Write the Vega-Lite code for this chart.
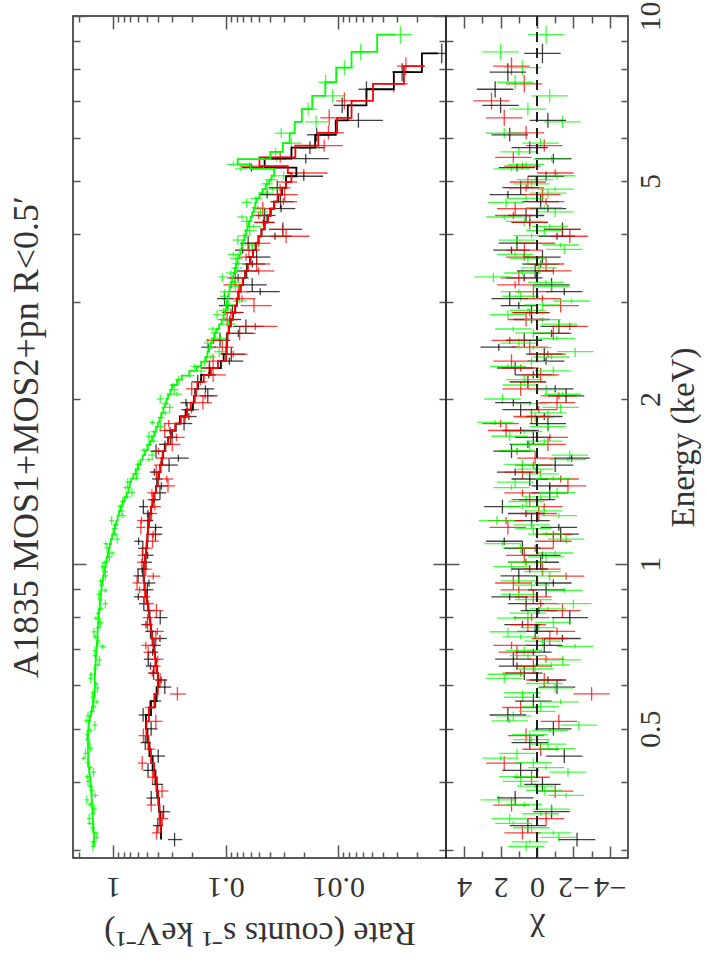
{
"$schema": "https://vega.github.io/schema/vega-lite/v6.json",
"background": "white",
"padding": {"left": 8, "top": 0, "right": 0, "bottom": 0},
"title": {"text": "A1835  MOS1+MOS2+pn  R<0.5′", "orient": "left", "anchor": "middle", "frame": "group", "offset": 26, "font": "Liberation Serif", "fontSize": 36, "fontWeight": "normal", "color": "#333"},
"datasets": {"spec": [
{"i":"m1","e":0.314,"a":0.305,"b":0.323,"m":0.375,"r":0.284,"l":0.243,"h":0.325,"c":-2.2},
{"i":"m1","e":0.333,"a":0.323,"b":0.343,"m":0.38,"r":0.40,"l":0.358,"h":0.442,"c":0.5},
{"i":"m1","e":0.353,"a":0.343,"b":0.363,"m":0.39,"r":0.356,"l":0.313,"h":0.399,"c":-0.8},
{"i":"m1","e":0.374,"a":0.363,"b":0.385,"m":0.405,"r":0.458,"l":0.413,"h":0.503,"c":1.2},
{"i":"m1","e":0.396,"a":0.385,"b":0.408,"m":0.42,"r":0.406,"l":0.360,"h":0.452,"c":-0.3},
{"i":"m1","e":0.420,"a":0.408,"b":0.433,"m":0.445,"r":0.489,"l":0.440,"h":0.538,"c":0.9},
{"i":"m1","e":0.446,"a":0.433,"b":0.459,"m":0.475,"r":0.397,"l":0.345,"h":0.449,"c":-1.5},
{"i":"m1","e":0.472,"a":0.459,"b":0.486,"m":0.495,"r":0.517,"l":0.463,"h":0.571,"c":0.4},
{"i":"m1","e":0.500,"a":0.486,"b":0.515,"m":0.51,"r":0.459,"l":0.403,"h":0.515,"c":-0.9},
{"i":"m1","e":0.530,"a":0.515,"b":0.546,"m":0.46,"r":0.541,"l":0.490,"h":0.592,"c":1.6},
{"i":"m1","e":0.562,"a":0.546,"b":0.579,"m":0.41,"r":0.419,"l":0.374,"h":0.464,"c":0.2},
{"i":"m1","e":0.596,"a":0.579,"b":0.614,"m":0.395,"r":0.347,"l":0.304,"h":0.390,"c":-1.1},
{"i":"m1","e":0.632,"a":0.614,"b":0.651,"m":0.405,"r":0.436,"l":0.391,"h":0.481,"c":0.7},
{"i":"m1","e":0.670,"a":0.651,"b":0.690,"m":0.425,"r":0.486,"l":0.439,"h":0.533,"c":1.3},
{"i":"m1","e":0.710,"a":0.690,"b":0.731,"m":0.445,"r":0.425,"l":0.376,"h":0.474,"c":-0.4},
{"i":"m1","e":0.753,"a":0.731,"b":0.775,"m":0.46,"r":0.465,"l":0.414,"h":0.516,"c":0.1},
{"i":"m1","e":0.798,"a":0.775,"b":0.822,"m":0.475,"r":0.381,"l":0.329,"h":0.433,"c":-1.8},
{"i":"m1","e":0.846,"a":0.822,"b":0.871,"m":0.50,"r":0.533,"l":0.478,"h":0.588,"c":0.6},
{"i":"m1","e":0.897,"a":0.871,"b":0.923,"m":0.525,"r":0.496,"l":0.438,"h":0.554,"c":-0.5},
{"i":"m1","e":0.951,"a":0.923,"b":0.979,"m":0.54,"r":0.599,"l":0.540,"h":0.658,"c":1.0},
{"i":"m1","e":1.007,"a":0.979,"b":1.037,"m":0.52,"r":0.509,"l":0.452,"h":0.566,"c":-0.2},
{"i":"m1","e":1.068,"a":1.037,"b":1.100,"m":0.50,"r":0.544,"l":0.489,"h":0.599,"c":0.8},
{"i":"m1","e":1.133,"a":1.100,"b":1.166,"m":0.49,"r":0.420,"l":0.366,"h":0.474,"c":-1.3},
{"i":"m1","e":1.200,"a":1.166,"b":1.236,"m":0.475,"r":0.491,"l":0.439,"h":0.543,"c":0.3},
{"i":"m1","e":1.272,"a":1.236,"b":1.310,"m":0.445,"r":0.538,"l":0.489,"h":0.587,"c":1.9},
{"i":"m1","e":1.348,"a":1.310,"b":1.388,"m":0.415,"r":0.383,"l":0.337,"h":0.429,"c":-0.7},
{"i":"m1","e":1.429,"a":1.388,"b":1.471,"m":0.39,"r":0.407,"l":0.364,"h":0.450,"c":0.4},
{"i":"m1","e":1.515,"a":1.471,"b":1.560,"m":0.37,"r":0.318,"l":0.266,"h":0.370,"c":-1.0},
{"i":"m1","e":1.606,"a":1.560,"b":1.653,"m":0.347,"r":0.415,"l":0.366,"h":0.464,"c":1.4},
{"i":"m1","e":1.702,"a":1.653,"b":1.752,"m":0.30,"r":0.308,"l":0.266,"h":0.350,"c":0.2},
{"i":"m1","e":1.804,"a":1.752,"b":1.858,"m":0.255,"r":0.234,"l":0.198,"h":0.270,"c":-0.6},
{"i":"m1","e":1.912,"a":1.858,"b":1.969,"m":0.195,"r":0.220,"l":0.193,"h":0.247,"c":0.9},
{"i":"m1","e":2.027,"a":1.969,"b":2.087,"m":0.186,"r":0.144,"l":0.118,"h":0.170,"c":-1.6},
{"i":"m1","e":2.149,"a":2.087,"b":2.213,"m":0.165,"r":0.177,"l":0.154,"h":0.200,"c":0.5},
{"i":"m1","e":2.278,"a":2.213,"b":2.345,"m":0.11,"r":0.139,"l":0.115,"h":0.163,"c":1.2},
{"i":"m1","e":2.414,"a":2.345,"b":2.486,"m":0.098,"r":0.089,"l":0.067,"h":0.111,"c":-0.4},
{"i":"m1","e":2.560,"a":2.486,"b":2.635,"m":0.097,"r":0.112,"l":0.091,"h":0.133,"c":0.7},
{"i":"m1","e":2.713,"a":2.635,"b":2.793,"m":0.090,"r":0.066,"l":0.046,"h":0.086,"c":-1.2},
{"i":"m1","e":2.876,"a":2.793,"b":2.961,"m":0.082,"r":0.087,"l":0.069,"h":0.105,"c":0.3},
{"i":"m1","e":3.049,"a":2.961,"b":3.139,"m":0.077,"r":0.102,"l":0.085,"h":0.119,"c":1.5},
{"i":"m1","e":3.231,"a":3.139,"b":3.327,"m":0.070,"r":0.058,"l":0.043,"h":0.073,"c":-0.8},
{"i":"m1","e":3.425,"a":3.327,"b":3.527,"m":0.064,"r":0.065,"l":0.051,"h":0.079,"c":0.1},
{"i":"m1","e":3.631,"a":3.527,"b":3.738,"m":0.057,"r":0.053,"l":0.040,"h":0.066,"c":-0.3},
{"i":"m1","e":3.849,"a":3.738,"b":3.963,"m":0.051,"r":0.063,"l":0.052,"h":0.074,"c":1.1},
{"i":"m1","e":4.080,"a":3.963,"b":4.200,"m":0.045,"r":0.031,"l":0.021,"h":0.041,"c":-1.4},
{"i":"m1","e":4.324,"a":4.200,"b":4.452,"m":0.040,"r":0.045,"l":0.036,"h":0.054,"c":0.6},
{"i":"m1","e":4.584,"a":4.452,"b":4.720,"m":0.034,"r":0.0325,"l":0.025,"h":0.040,"c":-0.2},
{"i":"m1","e":4.860,"a":4.720,"b":5.003,"m":0.029,"r":0.0347,"l":0.0283,"h":0.0411,"c":0.9},
{"i":"m1","e":5.10,"a":5.003,"b":5.20,"m":0.0235,"r":0.0202,"l":0.0136,"h":0.0268,"c":-0.5},
{"i":"m1","e":5.29,"a":5.20,"b":5.38,"m":0.045,"r":0.0589,"l":0.0463,"h":0.0715,"c":1.1},
{"i":"m1","e":5.49,"a":5.38,"b":5.60,"m":0.026,"r":0.0194,"l":0.0121,"h":0.0267,"c":-0.9},
{"i":"m1","e":5.75,"a":5.60,"b":5.90,"m":0.016,"r":0.0178,"l":0.0133,"h":0.0223,"c":0.4},
{"i":"m1","e":6.07,"a":5.90,"b":6.25,"m":0.0105,"r":0.0155,"l":0.0121,"h":0.0189,"c":1.5},
{"i":"m1","e":6.45,"a":6.25,"b":6.65,"m":0.0082,"r":0.0066,"l":0.0040,"h":0.0092,"c":-0.6},
{"i":"m1","e":6.87,"a":6.65,"b":7.10,"m":0.0056,"r":0.0092,"l":0.0074,"h":0.0110,"c":2.0},
{"i":"m1","e":7.35,"a":7.10,"b":7.60,"m":0.0032,"r":0.0056,"l":0.0046,"h":0.0066,"c":2.3},
{"i":"m1","e":7.90,"a":7.60,"b":8.20,"m":0.0018,"r":0.0027,"l":0.0021,"h":0.0033,"c":1.6},
{"i":"m1","e":8.55,"a":8.20,"b":8.90,"m":0.0013,"r":0.0012,"l":0.0008,"h":0.0016,"c":-0.3},
{"i":"m1","e":0.614,"a":0.605,"b":0.623,"m":0.40,"r":0.374,"l":0.330,"h":0.418,"c":-0.6},
{"i":"m1","e":0.651,"a":0.641,"b":0.661,"m":0.415,"r":0.465,"l":0.419,"h":0.511,"c":1.1},
{"i":"m1","e":0.690,"a":0.680,"b":0.700,"m":0.435,"r":0.445,"l":0.397,"h":0.493,"c":0.2},
{"i":"m1","e":0.731,"a":0.720,"b":0.742,"m":0.4525,"r":0.383,"l":0.333,"h":0.433,"c":-1.4},
{"i":"m1","e":0.775,"a":0.763,"b":0.787,"m":0.4675,"r":0.509,"l":0.458,"h":0.560,"c":0.8},
{"i":"m1","e":0.822,"a":0.810,"b":0.834,"m":0.4875,"r":0.482,"l":0.428,"h":0.536,"c":-0.1},
{"i":"m1","e":0.871,"a":0.858,"b":0.884,"m":0.5125,"r":0.597,"l":0.541,"h":0.653,"c":1.5},
{"i":"m1","e":0.923,"a":0.909,"b":0.937,"m":0.5325,"r":0.480,"l":0.421,"h":0.539,"c":-0.9},
{"i":"m1","e":0.979,"a":0.964,"b":0.994,"m":0.53,"r":0.553,"l":0.495,"h":0.611,"c":0.4},
{"i":"m1","e":1.037,"a":1.021,"b":1.053,"m":0.51,"r":0.493,"l":0.437,"h":0.549,"c":-0.3},
{"i":"m1","e":1.100,"a":1.083,"b":1.117,"m":0.495,"r":0.593,"l":0.538,"h":0.648,"c":1.8},
{"i":"m1","e":1.166,"a":1.149,"b":1.183,"m":0.4825,"r":0.419,"l":0.366,"h":0.472,"c":-1.2},
{"i":"m1","e":1.236,"a":1.217,"b":1.255,"m":0.46,"r":0.490,"l":0.439,"h":0.541,"c":0.6},
{"i":"m1","e":1.310,"a":1.290,"b":1.330,"m":0.43,"r":0.43,"l":0.383,"h":0.477,"c":0.0},
{"i":"m1","e":1.388,"a":1.367,"b":1.409,"m":0.4025,"r":0.372,"l":0.328,"h":0.416,"c":-0.7},
{"i":"m1","e":1.471,"a":1.449,"b":1.493,"m":0.38,"r":0.430,"l":0.388,"h":0.472,"c":1.2},
{"i":"m1","e":1.560,"a":1.537,"b":1.583,"m":0.3585,"r":0.263,"l":0.213,"h":0.313,"c":-1.9},
{"i":"m1","e":1.653,"a":1.628,"b":1.678,"m":0.3235,"r":0.346,"l":0.301,"h":0.391,"c":0.5},
{"i":"m1","e":1.752,"a":1.726,"b":1.778,"m":0.2775,"r":0.312,"l":0.273,"h":0.351,"c":0.9},
{"i":"m1","e":1.858,"a":1.830,"b":1.886,"m":0.225,"r":0.212,"l":0.181,"h":0.244,"c":-0.4},
{"i":"m1","e":1.969,"a":1.939,"b":1.999,"m":0.1905,"r":0.225,"l":0.198,"h":0.252,"c":1.3},
{"i":"m1","e":2.087,"a":2.056,"b":2.118,"m":0.1755,"r":0.151,"l":0.126,"h":0.176,"c":-1.0},
{"i":"m1","e":2.213,"a":2.180,"b":2.246,"m":0.1375,"r":0.141,"l":0.122,"h":0.160,"c":0.2},
{"i":"m1","e":2.345,"a":2.310,"b":2.380,"m":0.104,"r":0.0926,"l":0.0697,"h":0.1155,"c":-0.5},
{"i":"m1","e":2.486,"a":2.449,"b":2.523,"m":0.0975,"r":0.1425,"l":0.121,"h":0.164,"c":2.1},
{"i":"m1","e":2.635,"a":2.595,"b":2.675,"m":0.0935,"r":0.077,"l":0.0564,"h":0.0976,"c":-0.8},
{"i":"m1","e":2.793,"a":2.751,"b":2.835,"m":0.086,"r":0.0917,"l":0.0728,"h":0.1106,"c":0.3},
{"i":"m1","e":2.961,"a":2.917,"b":3.005,"m":0.0795,"r":0.097,"l":0.0795,"h":0.1145,"c":1.0},
{"i":"m1","e":3.139,"a":3.092,"b":3.186,"m":0.0735,"r":0.0492,"l":0.033,"h":0.0654,"c":-1.5},
{"i":"m1","e":3.327,"a":3.277,"b":3.377,"m":0.067,"r":0.0773,"l":0.0626,"h":0.092,"c":0.7},
{"i":"m1","e":3.527,"a":3.474,"b":3.580,"m":0.0605,"r":0.0578,"l":0.0445,"h":0.0711,"c":-0.2},
{"i":"m1","e":3.738,"a":3.682,"b":3.794,"m":0.054,"r":0.0706,"l":0.0587,"h":0.0825,"c":1.4},
{"i":"m1","e":3.963,"a":3.904,"b":4.022,"m":0.048,"r":0.0364,"l":0.0258,"h":0.047,"c":-1.1},
{"i":"m1","e":4.200,"a":4.137,"b":4.263,"m":0.0425,"r":0.0462,"l":0.0368,"h":0.0556,"c":0.4},
{"i":"m1","e":4.452,"a":4.385,"b":4.519,"m":0.037,"r":0.0321,"l":0.024,"h":0.0402,"c":-0.6},
{"i":"m1","e":4.720,"a":4.649,"b":4.791,"m":0.0315,"r":0.0426,"l":0.0357,"h":0.0495,"c":1.6},
{"i":"m2","e":0.323,"a":0.314,"b":0.333,"m":0.378,"r":0.411,"l":0.369,"h":0.453,"c":0.8},
{"i":"m2","e":0.343,"a":0.333,"b":0.353,"m":0.386,"r":0.365,"l":0.323,"h":0.407,"c":-0.5},
{"i":"m2","e":0.363,"a":0.353,"b":0.374,"m":0.397,"r":0.458,"l":0.414,"h":0.502,"c":1.4},
{"i":"m2","e":0.385,"a":0.374,"b":0.396,"m":0.412,"r":0.367,"l":0.322,"h":0.412,"c":-1.0},
{"i":"m2","e":0.408,"a":0.396,"b":0.420,"m":0.432,"r":0.446,"l":0.398,"h":0.494,"c":0.3},
{"i":"m2","e":0.433,"a":0.420,"b":0.446,"m":0.46,"r":0.551,"l":0.500,"h":0.602,"c":1.8},
{"i":"m2","e":0.459,"a":0.446,"b":0.472,"m":0.485,"r":0.474,"l":0.421,"h":0.527,"c":-0.2},
{"i":"m2","e":0.486,"a":0.472,"b":0.501,"m":0.505,"r":0.538,"l":0.482,"h":0.594,"c":0.6},
{"i":"m2","e":0.516,"a":0.501,"b":0.531,"m":0.48,"r":0.417,"l":0.364,"h":0.470,"c":-1.2},
{"i":"m2","e":0.547,"a":0.531,"b":0.563,"m":0.43,"r":0.473,"l":0.426,"h":0.520,"c":0.9},
{"i":"m2","e":0.579,"a":0.563,"b":0.596,"m":0.40,"r":0.268,"l":0.224,"h":0.312,"c":-3.0},
{"i":"m2","e":0.614,"a":0.596,"b":0.632,"m":0.40,"r":0.382,"l":0.338,"h":0.426,"c":-0.4},
{"i":"m2","e":0.651,"a":0.632,"b":0.670,"m":0.415,"r":0.424,"l":0.378,"h":0.470,"c":0.2},
{"i":"m2","e":0.690,"a":0.670,"b":0.710,"m":0.435,"r":0.488,"l":0.440,"h":0.536,"c":1.1},
{"i":"m2","e":0.731,"a":0.710,"b":0.753,"m":0.452,"r":0.417,"l":0.367,"h":0.467,"c":-0.7},
{"i":"m2","e":0.775,"a":0.753,"b":0.798,"m":0.468,"r":0.494,"l":0.443,"h":0.545,"c":0.5},
{"i":"m2","e":0.822,"a":0.798,"b":0.846,"m":0.487,"r":0.412,"l":0.358,"h":0.466,"c":-1.4},
{"i":"m2","e":0.871,"a":0.846,"b":0.897,"m":0.512,"r":0.523,"l":0.467,"h":0.579,"c":0.2},
{"i":"m2","e":0.923,"a":0.897,"b":0.950,"m":0.535,"r":0.612,"l":0.553,"h":0.671,"c":1.3},
{"i":"m2","e":0.978,"a":0.950,"b":1.007,"m":0.53,"r":0.513,"l":0.455,"h":0.571,"c":-0.3},
{"i":"m2","e":1.037,"a":1.007,"b":1.068,"m":0.51,"r":0.549,"l":0.493,"h":0.605,"c":0.7},
{"i":"m2","e":1.100,"a":1.068,"b":1.132,"m":0.495,"r":0.446,"l":0.392,"h":0.500,"c":-0.9},
{"i":"m2","e":1.166,"a":1.132,"b":1.200,"m":0.482,"r":0.567,"l":0.514,"h":0.620,"c":1.6},
{"i":"m2","e":1.236,"a":1.200,"b":1.272,"m":0.46,"r":0.455,"l":0.404,"h":0.506,"c":-0.1},
{"i":"m2","e":1.310,"a":1.272,"b":1.348,"m":0.43,"r":0.449,"l":0.402,"h":0.496,"c":0.4},
{"i":"m2","e":1.388,"a":1.348,"b":1.429,"m":0.40,"r":0.325,"l":0.281,"h":0.369,"c":-1.7},
{"i":"m2","e":1.471,"a":1.429,"b":1.515,"m":0.38,"r":0.413,"l":0.371,"h":0.455,"c":0.8},
{"i":"m2","e":1.560,"a":1.515,"b":1.606,"m":0.36,"r":0.365,"l":0.315,"h":0.415,"c":0.1},
{"i":"m2","e":1.653,"a":1.606,"b":1.702,"m":0.325,"r":0.298,"l":0.253,"h":0.343,"c":-0.6},
{"i":"m2","e":1.752,"a":1.702,"b":1.804,"m":0.28,"r":0.347,"l":0.308,"h":0.386,"c":1.7},
{"i":"m2","e":1.858,"a":1.804,"b":1.912,"m":0.22,"r":0.229,"l":0.198,"h":0.260,"c":0.3},
{"i":"m2","e":1.969,"a":1.912,"b":2.027,"m":0.188,"r":0.159,"l":0.133,"h":0.185,"c":-1.1},
{"i":"m2","e":2.087,"a":2.027,"b":2.149,"m":0.178,"r":0.200,"l":0.175,"h":0.225,"c":0.9},
{"i":"m2","e":2.213,"a":2.149,"b":2.278,"m":0.135,"r":0.129,"l":0.099,"h":0.159,"c":-0.2},
{"i":"m2","e":2.345,"a":2.278,"b":2.414,"m":0.099,"r":0.129,"l":0.107,"h":0.151,"c":1.4},
{"i":"m2","e":2.486,"a":2.414,"b":2.559,"m":0.098,"r":0.107,"l":0.085,"h":0.129,"c":0.4},
{"i":"m2","e":2.635,"a":2.559,"b":2.713,"m":0.094,"r":0.075,"l":0.054,"h":0.096,"c":-0.9},
{"i":"m2","e":2.793,"a":2.713,"b":2.876,"m":0.086,"r":0.097,"l":0.078,"h":0.116,"c":0.6},
{"i":"m2","e":2.961,"a":2.876,"b":3.048,"m":0.079,"r":0.056,"l":0.039,"h":0.073,"c":-1.3},
{"i":"m2","e":3.139,"a":3.048,"b":3.231,"m":0.074,"r":0.077,"l":0.061,"h":0.093,"c":0.2},
{"i":"m2","e":3.327,"a":3.231,"b":3.425,"m":0.067,"r":0.082,"l":0.067,"h":0.097,"c":1.0},
{"i":"m2","e":3.527,"a":3.425,"b":3.630,"m":0.060,"r":0.053,"l":0.040,"h":0.066,"c":-0.5},
{"i":"m2","e":3.738,"a":3.630,"b":3.848,"m":0.054,"r":0.062,"l":0.050,"h":0.074,"c":0.7},
{"i":"m2","e":3.963,"a":3.848,"b":4.079,"m":0.048,"r":0.029,"l":0.018,"h":0.040,"c":-1.8},
{"i":"m2","e":4.200,"a":4.079,"b":4.324,"m":0.042,"r":0.0457,"l":0.0365,"h":0.0549,"c":0.4},
{"i":"m2","e":4.452,"a":4.324,"b":4.583,"m":0.037,"r":0.0468,"l":0.0387,"h":0.0549,"c":1.2},
{"i":"m2","e":4.720,"a":4.583,"b":4.858,"m":0.032,"r":0.0299,"l":0.0229,"h":0.0369,"c":-0.3},
{"i":"m2","e":4.978,"a":4.858,"b":5.10,"m":0.026,"r":0.0289,"l":0.0232,"h":0.0346,"c":0.5},
{"i":"m2","e":5.17,"a":5.10,"b":5.25,"m":0.028,"r":0.0202,"l":0.0124,"h":0.0280,"c":-1.0},
{"i":"m2","e":5.32,"a":5.25,"b":5.40,"m":0.05,"r":0.0612,"l":0.0472,"h":0.0752,"c":0.8},
{"i":"m2","e":5.52,"a":5.40,"b":5.65,"m":0.024,"r":0.0327,"l":0.026,"h":0.0394,"c":1.3},
{"i":"m2","e":5.80,"a":5.65,"b":5.95,"m":0.015,"r":0.0133,"l":0.0091,"h":0.0175,"c":-0.4},
{"i":"m2","e":6.12,"a":5.95,"b":6.30,"m":0.0102,"r":0.0122,"l":0.0089,"h":0.0155,"c":0.6},
{"i":"m2","e":6.52,"a":6.30,"b":6.75,"m":0.0076,"r":0.0120,"l":0.0096,"h":0.0144,"c":1.8},
{"i":"m2","e":7.00,"a":6.75,"b":7.25,"m":0.0049,"r":0.0088,"l":0.0072,"h":0.0104,"c":2.5},
{"i":"m2","e":7.52,"a":7.25,"b":7.80,"m":0.0026,"r":0.0032,"l":0.0024,"h":0.0040,"c":0.7},
{"i":"m2","e":8.10,"a":7.80,"b":8.40,"m":0.0017,"r":0.0025,"l":0.0020,"h":0.0030,"c":1.4},
{"i":"m2","e":0.632,"a":0.623,"b":0.641,"m":0.4075,"r":0.448,"l":0.403,"h":0.493,"c":0.9},
{"i":"m2","e":0.670,"a":0.660,"b":0.680,"m":0.425,"r":0.402,"l":0.355,"h":0.449,"c":-0.5},
{"i":"m2","e":0.710,"a":0.699,"b":0.721,"m":0.4435,"r":0.512,"l":0.463,"h":0.561,"c":1.4},
{"i":"m2","e":0.753,"a":0.742,"b":0.764,"m":0.46,"r":0.404,"l":0.353,"h":0.455,"c":-1.1},
{"i":"m2","e":0.798,"a":0.786,"b":0.810,"m":0.4775,"r":0.493,"l":0.441,"h":0.546,"c":0.3},
{"i":"m2","e":0.846,"a":0.833,"b":0.859,"m":0.4995,"r":0.488,"l":0.433,"h":0.543,"c":-0.2},
{"i":"m2","e":0.897,"a":0.884,"b":0.910,"m":0.5235,"r":0.581,"l":0.523,"h":0.639,"c":1.0},
{"i":"m2","e":0.950,"a":0.936,"b":0.964,"m":0.5325,"r":0.439,"l":0.380,"h":0.498,"c":-1.6},
{"i":"m2","e":1.007,"a":0.992,"b":1.022,"m":0.52,"r":0.554,"l":0.497,"h":0.611,"c":0.6},
{"i":"m2","e":1.068,"a":1.052,"b":1.084,"m":0.5025,"r":0.508,"l":0.453,"h":0.563,"c":0.1},
{"i":"m2","e":1.132,"a":1.115,"b":1.149,"m":0.4885,"r":0.440,"l":0.386,"h":0.494,"c":-0.9},
{"i":"m2","e":1.200,"a":1.182,"b":1.218,"m":0.471,"r":0.559,"l":0.507,"h":0.611,"c":1.7},
{"i":"m2","e":1.272,"a":1.253,"b":1.291,"m":0.445,"r":0.425,"l":0.376,"h":0.474,"c":-0.4},
{"i":"m2","e":1.348,"a":1.328,"b":1.368,"m":0.415,"r":0.452,"l":0.406,"h":0.498,"c":0.8},
{"i":"m2","e":1.429,"a":1.408,"b":1.450,"m":0.39,"r":0.334,"l":0.291,"h":0.377,"c":-1.3},
{"i":"m2","e":1.515,"a":1.492,"b":1.538,"m":0.37,"r":0.380,"l":0.328,"h":0.432,"c":0.2},
{"i":"m2","e":1.606,"a":1.582,"b":1.630,"m":0.3425,"r":0.395,"l":0.347,"h":0.443,"c":1.1},
{"i":"m2","e":1.702,"a":1.676,"b":1.728,"m":0.3025,"r":0.273,"l":0.231,"h":0.315,"c":-0.7},
{"i":"m2","e":1.804,"a":1.777,"b":1.831,"m":0.25,"r":0.32,"l":0.285,"h":0.355,"c":2.0},
{"i":"m2","e":1.912,"a":1.883,"b":1.941,"m":0.204,"r":0.201,"l":0.172,"h":0.230,"c":-0.1},
{"i":"m2","e":2.027,"a":1.997,"b":2.057,"m":0.183,"r":0.152,"l":0.126,"h":0.178,"c":-1.2},
{"i":"m2","e":2.149,"a":2.117,"b":2.181,"m":0.1565,"r":0.1675,"l":0.1456,"h":0.1894,"c":0.5},
{"i":"m2","e":2.278,"a":2.244,"b":2.312,"m":0.117,"r":0.140,"l":0.114,"h":0.166,"c":0.9},
{"i":"m2","e":2.414,"a":2.378,"b":2.450,"m":0.0985,"r":0.0855,"l":0.0638,"h":0.1072,"c":-0.6},
{"i":"m2","e":2.559,"a":2.521,"b":2.597,"m":0.096,"r":0.1277,"l":0.1066,"h":0.1488,"c":1.5},
{"i":"m2","e":2.713,"a":2.672,"b":2.754,"m":0.090,"r":0.0544,"l":0.0346,"h":0.0742,"c":-1.8},
{"i":"m2","e":2.876,"a":2.833,"b":2.919,"m":0.0825,"r":0.0898,"l":0.0716,"h":0.108,"c":0.4},
{"i":"m2","e":3.048,"a":3.002,"b":3.094,"m":0.0765,"r":0.0715,"l":0.0547,"h":0.0883,"c":-0.3},
{"i":"m2","e":3.231,"a":3.183,"b":3.279,"m":0.0705,"r":0.0891,"l":0.0736,"h":0.1046,"c":1.2},
{"i":"m2","e":3.425,"a":3.374,"b":3.476,"m":0.0635,"r":0.0509,"l":0.0369,"h":0.0649,"c":-0.9},
{"i":"m2","e":3.630,"a":3.576,"b":3.684,"m":0.057,"r":0.0658,"l":0.0533,"h":0.0783,"c":0.7},
{"i":"m2","e":3.848,"a":3.790,"b":3.906,"m":0.051,"r":0.051,"l":0.0398,"h":0.0622,"c":0.0},
{"i":"m2","e":4.079,"a":4.018,"b":4.140,"m":0.045,"r":0.0311,"l":0.0212,"h":0.041,"c":-1.4},
{"i":"m2","e":4.324,"a":4.259,"b":4.389,"m":0.0395,"r":0.0508,"l":0.0421,"h":0.0595,"c":1.3},
{"i":"m2","e":4.583,"a":4.514,"b":4.652,"m":0.0345,"r":0.0307,"l":0.0231,"h":0.0383,"c":-0.5},
{"i":"m2","e":4.858,"a":4.785,"b":4.931,"m":0.029,"r":0.0328,"l":0.0264,"h":0.0392,"c":0.6},
{"i":"pn","e":0.305,"a":0.299,"b":0.311,"m":1.47,"r":1.51,"l":1.44,"h":1.58,"c":0.6},
{"i":"pn","e":0.317,"a":0.311,"b":0.323,"m":1.48,"r":1.39,"l":1.32,"h":1.46,"c":-1.2},
{"i":"pn","e":0.330,"a":0.323,"b":0.336,"m":1.50,"r":1.52,"l":1.45,"h":1.60,"c":0.3},
{"i":"pn","e":0.343,"a":0.336,"b":0.350,"m":1.52,"r":1.63,"l":1.55,"h":1.71,"c":1.5},
{"i":"pn","e":0.357,"a":0.350,"b":0.364,"m":1.53,"r":1.47,"l":1.39,"h":1.55,"c":-0.8},
{"i":"pn","e":0.371,"a":0.364,"b":0.378,"m":1.55,"r":1.71,"l":1.63,"h":1.79,"c":2.1},
{"i":"pn","e":0.386,"a":0.378,"b":0.393,"m":1.57,"r":1.54,"l":1.46,"h":1.62,"c":-0.4},
{"i":"pn","e":0.401,"a":0.393,"b":0.409,"m":1.60,"r":1.67,"l":1.59,"h":1.75,"c":0.9},
{"i":"pn","e":0.417,"a":0.409,"b":0.425,"m":1.63,"r":1.49,"l":1.41,"h":1.57,"c":-1.7},
{"i":"pn","e":0.434,"a":0.425,"b":0.442,"m":1.66,"r":1.68,"l":1.60,"h":1.76,"c":0.2},
{"i":"pn","e":0.451,"a":0.442,"b":0.460,"m":1.67,"r":1.76,"l":1.68,"h":1.84,"c":1.1},
{"i":"pn","e":0.469,"a":0.460,"b":0.478,"m":1.67,"r":1.62,"l":1.54,"h":1.70,"c":-0.6},
{"i":"pn","e":0.488,"a":0.478,"b":0.497,"m":1.67,"r":1.70,"l":1.62,"h":1.78,"c":0.4},
{"i":"pn","e":0.508,"a":0.497,"b":0.517,"m":1.64,"r":1.45,"l":1.37,"h":1.53,"c":-2.3},
{"i":"pn","e":0.528,"a":0.517,"b":0.538,"m":1.57,"r":1.67,"l":1.59,"h":1.75,"c":1.3},
{"i":"pn","e":0.549,"a":0.538,"b":0.560,"m":1.51,"r":1.49,"l":1.41,"h":1.57,"c":-0.2},
{"i":"pn","e":0.571,"a":0.560,"b":0.582,"m":1.46,"r":1.52,"l":1.45,"h":1.59,"c":0.8},
{"i":"pn","e":0.594,"a":0.582,"b":0.605,"m":1.45,"r":1.38,"l":1.31,"h":1.45,"c":-1.0},
{"i":"pn","e":0.618,"a":0.605,"b":0.629,"m":1.45,"r":1.58,"l":1.51,"h":1.65,"c":1.8},
{"i":"pn","e":0.643,"a":0.629,"b":0.654,"m":1.44,"r":1.45,"l":1.38,"h":1.52,"c":0.1},
{"i":"pn","e":0.668,"a":0.654,"b":0.680,"m":1.42,"r":1.32,"l":1.25,"h":1.39,"c":-1.4},
{"i":"pn","e":0.695,"a":0.680,"b":0.707,"m":1.40,"r":1.45,"l":1.38,"h":1.52,"c":0.7},
{"i":"pn","e":0.723,"a":0.707,"b":0.736,"m":1.38,"r":1.36,"l":1.29,"h":1.43,"c":-0.3},
{"i":"pn","e":0.752,"a":0.736,"b":0.765,"m":1.37,"r":1.48,"l":1.41,"h":1.55,"c":1.6},
{"i":"pn","e":0.782,"a":0.765,"b":0.796,"m":1.35,"r":1.29,"l":1.22,"h":1.36,"c":-0.9},
{"i":"pn","e":0.813,"a":0.796,"b":0.828,"m":1.33,"r":1.36,"l":1.29,"h":1.43,"c":0.5},
{"i":"pn","e":0.846,"a":0.828,"b":0.861,"m":1.30,"r":1.17,"l":1.11,"h":1.24,"c":-2.0},
{"i":"pn","e":0.880,"a":0.861,"b":0.895,"m":1.28,"r":1.34,"l":1.28,"h":1.40,"c":1.0},
{"i":"pn","e":0.915,"a":0.895,"b":0.931,"m":1.25,"r":1.27,"l":1.21,"h":1.33,"c":0.3},
{"i":"pn","e":0.951,"a":0.931,"b":0.968,"m":1.21,"r":1.17,"l":1.11,"h":1.23,"c":-0.7},
{"i":"pn","e":0.989,"a":0.968,"b":1.007,"m":1.16,"r":1.24,"l":1.18,"h":1.30,"c":1.4},
{"i":"pn","e":1.03,"a":1.007,"b":1.047,"m":1.11,"r":1.08,"l":1.01,"h":1.15,"c":-0.5},
{"i":"pn","e":1.07,"a":1.047,"b":1.089,"m":1.07,"r":1.13,"l":1.07,"h":1.19,"c":0.9},
{"i":"pn","e":1.11,"a":1.089,"b":1.133,"m":1.02,"r":0.92,"l":0.86,"h":0.98,"c":-1.6},
{"i":"pn","e":1.16,"a":1.133,"b":1.178,"m":0.96,"r":0.97,"l":0.91,"h":1.03,"c":0.2},
{"i":"pn","e":1.20,"a":1.178,"b":1.225,"m":0.91,"r":1.03,"l":0.98,"h":1.08,"c":2.2},
{"i":"pn","e":1.25,"a":1.225,"b":1.274,"m":0.86,"r":0.84,"l":0.79,"h":0.89,"c":-0.4},
{"i":"pn","e":1.30,"a":1.274,"b":1.325,"m":0.79,"r":0.82,"l":0.77,"h":0.87,"c":0.6},
{"i":"pn","e":1.35,"a":1.325,"b":1.378,"m":0.73,"r":0.68,"l":0.64,"h":0.72,"c":-1.1},
{"i":"pn","e":1.41,"a":1.378,"b":1.433,"m":0.69,"r":0.74,"l":0.70,"h":0.78,"c":1.2},
{"i":"pn","e":1.46,"a":1.433,"b":1.490,"m":0.63,"r":0.62,"l":0.58,"h":0.66,"c":-0.2},
{"i":"pn","e":1.52,"a":1.490,"b":1.550,"m":0.57,"r":0.60,"l":0.56,"h":0.64,"c":0.8},
{"i":"pn","e":1.58,"a":1.550,"b":1.612,"m":0.52,"r":0.45,"l":0.41,"h":0.49,"c":-1.8},
{"i":"pn","e":1.65,"a":1.612,"b":1.676,"m":0.47,"r":0.48,"l":0.45,"h":0.51,"c":0.4},
{"i":"pn","e":1.71,"a":1.676,"b":1.743,"m":0.43,"r":0.48,"l":0.45,"h":0.51,"c":1.5},
{"i":"pn","e":1.78,"a":1.743,"b":1.813,"m":0.40,"r":0.38,"l":0.35,"h":0.41,"c":-0.6},
{"i":"pn","e":1.85,"a":1.813,"b":1.886,"m":0.372,"r":0.375,"l":0.349,"h":0.401,"c":0.1},
{"i":"pn","e":1.93,"a":1.886,"b":1.961,"m":0.345,"r":0.314,"l":0.290,"h":0.338,"c":-1.3},
{"i":"pn","e":2.00,"a":1.961,"b":2.040,"m":0.325,"r":0.381,"l":0.352,"h":0.410,"c":1.9},
{"i":"pn","e":2.08,"a":2.040,"b":2.121,"m":0.30,"r":0.287,"l":0.260,"h":0.314,"c":-0.5},
{"i":"pn","e":2.17,"a":2.121,"b":2.206,"m":0.245,"r":0.260,"l":0.238,"h":0.282,"c":0.7},
{"i":"pn","e":2.25,"a":2.206,"b":2.294,"m":0.18,"r":0.165,"l":0.149,"h":0.181,"c":-0.9},
{"i":"pn","e":2.34,"a":2.294,"b":2.386,"m":0.15,"r":0.154,"l":0.140,"h":0.168,"c":0.3},
{"i":"pn","e":2.44,"a":2.386,"b":2.481,"m":0.140,"r":0.114,"l":0.101,"h":0.127,"c":-2.1},
{"i":"pn","e":2.53,"a":2.481,"b":2.581,"m":0.132,"r":0.144,"l":0.132,"h":0.156,"c":1.0},
{"i":"pn","e":2.64,"a":2.581,"b":2.684,"m":0.120,"r":0.123,"l":0.110,"h":0.136,"c":0.2},
{"i":"pn","e":2.74,"a":2.684,"b":2.791,"m":0.108,"r":0.094,"l":0.082,"h":0.106,"c":-1.2},
{"i":"pn","e":2.85,"a":2.791,"b":2.903,"m":0.101,"r":0.119,"l":0.108,"h":0.130,"c":1.6},
{"i":"pn","e":2.97,"a":2.903,"b":3.019,"m":0.097,"r":0.094,"l":0.083,"h":0.105,"c":-0.3},
{"i":"pn","e":3.08,"a":3.019,"b":3.140,"m":0.094,"r":0.103,"l":0.093,"h":0.113,"c":0.9},
{"i":"pn","e":3.21,"a":3.140,"b":3.265,"m":0.090,"r":0.082,"l":0.072,"h":0.092,"c":-0.8},
{"i":"pn","e":3.34,"a":3.265,"b":3.396,"m":0.085,"r":0.107,"l":0.098,"h":0.116,"c":2.4},
{"i":"pn","e":3.47,"a":3.396,"b":3.532,"m":0.081,"r":0.080,"l":0.071,"h":0.089,"c":-0.1},
{"i":"pn","e":3.61,"a":3.532,"b":3.673,"m":0.076,"r":0.081,"l":0.071,"h":0.091,"c":0.5},
{"i":"pn","e":3.75,"a":3.673,"b":3.820,"m":0.072,"r":0.058,"l":0.049,"h":0.067,"c":-1.5},
{"i":"pn","e":3.90,"a":3.820,"b":3.972,"m":0.068,"r":0.078,"l":0.069,"h":0.087,"c":1.1},
{"i":"pn","e":4.06,"a":3.972,"b":4.131,"m":0.064,"r":0.061,"l":0.053,"h":0.069,"c":-0.4},
{"i":"pn","e":4.22,"a":4.131,"b":4.297,"m":0.060,"r":0.065,"l":0.057,"h":0.073,"c":0.7},
{"i":"pn","e":4.39,"a":4.297,"b":4.468,"m":0.056,"r":0.049,"l":0.042,"h":0.056,"c":-1.0},
{"i":"pn","e":4.57,"a":4.468,"b":4.647,"m":0.053,"r":0.065,"l":0.058,"h":0.072,"c":1.7},
{"i":"pn","e":4.75,"a":4.647,"b":4.833,"m":0.047,"r":0.043,"l":0.037,"h":0.049,"c":-0.6},
{"i":"pn","e":4.94,"a":4.833,"b":5.026,"m":0.041,"r":0.043,"l":0.038,"h":0.048,"c":0.3},
{"i":"pn","e":5.11,"a":5.026,"b":5.20,"m":0.037,"r":0.0305,"l":0.0246,"h":0.0364,"c":-1.1},
{"i":"pn","e":5.26,"a":5.20,"b":5.31,"m":0.060,"r":0.073,"l":0.0634,"h":0.0826,"c":1.4},
{"i":"pn","e":5.36,"a":5.31,"b":5.42,"m":0.078,"r":0.085,"l":0.0725,"h":0.0975,"c":0.6},
{"i":"pn","e":5.48,"a":5.42,"b":5.55,"m":0.040,"r":0.035,"l":0.0286,"h":0.0414,"c":-0.8},
{"i":"pn","e":5.65,"a":5.55,"b":5.75,"m":0.031,"r":0.036,"l":0.031,"h":0.041,"c":1.0},
{"i":"pn","e":5.86,"a":5.75,"b":5.98,"m":0.027,"r":0.026,"l":0.0211,"h":0.0309,"c":-0.2},
{"i":"pn","e":6.11,"a":5.98,"b":6.25,"m":0.0243,"r":0.032,"l":0.0276,"h":0.0364,"c":1.8},
{"i":"pn","e":6.41,"a":6.25,"b":6.58,"m":0.021,"r":0.0157,"l":0.0119,"h":0.0195,"c":-1.4},
{"i":"pn","e":6.76,"a":6.58,"b":6.95,"m":0.017,"r":0.0185,"l":0.0154,"h":0.0216,"c":0.5},
{"i":"pn","e":7.15,"a":6.95,"b":7.35,"m":0.013,"r":0.0112,"l":0.0086,"h":0.0138,"c":-0.7},
{"i":"pn","e":7.57,"a":7.35,"b":7.80,"m":0.0104,"r":0.0129,"l":0.0108,"h":0.0150,"c":1.2},
{"i":"pn","e":8.05,"a":7.80,"b":8.30,"m":0.0076,"r":0.0088,"l":0.0073,"h":0.0103,"c":0.8},
{"i":"pn","e":8.60,"a":8.30,"b":8.90,"m":0.0045,"r":0.0063,"l":0.0054,"h":0.0072,"c":2.0},
{"i":"pn","e":9.25,"a":8.90,"b":9.60,"m":0.0031,"r":0.0028,"l":0.0022,"h":0.0034,"c":-0.5},
{"i":"pn","e":0.311,"a":0.308,"b":0.314,"m":1.475,"r":1.50,"l":1.43,"h":1.58,"c":0.4},
{"i":"pn","e":0.323,"a":0.320,"b":0.326,"m":1.49,"r":1.42,"l":1.35,"h":1.50,"c":-0.9},
{"i":"pn","e":0.336,"a":0.333,"b":0.339,"m":1.51,"r":1.61,"l":1.53,"h":1.69,"c":1.3},
{"i":"pn","e":0.350,"a":0.347,"b":0.354,"m":1.525,"r":1.51,"l":1.43,"h":1.59,"c":-0.2},
{"i":"pn","e":0.364,"a":0.360,"b":0.368,"m":1.54,"r":1.59,"l":1.52,"h":1.67,"c":0.7},
{"i":"pn","e":0.378,"a":0.374,"b":0.382,"m":1.56,"r":1.44,"l":1.36,"h":1.52,"c":-1.6},
{"i":"pn","e":0.393,"a":0.389,"b":0.397,"m":1.585,"r":1.59,"l":1.51,"h":1.67,"c":0.1},
{"i":"pn","e":0.409,"a":0.405,"b":0.413,"m":1.615,"r":1.70,"l":1.62,"h":1.78,"c":1.1},
{"i":"pn","e":0.425,"a":0.421,"b":0.429,"m":1.645,"r":1.60,"l":1.52,"h":1.68,"c":-0.5},
{"i":"pn","e":0.442,"a":0.438,"b":0.446,"m":1.665,"r":1.83,"l":1.75,"h":1.91,"c":2.0},
{"i":"pn","e":0.460,"a":0.455,"b":0.465,"m":1.67,"r":1.58,"l":1.50,"h":1.66,"c":-1.1},
{"i":"pn","e":0.478,"a":0.473,"b":0.483,"m":1.67,"r":1.70,"l":1.62,"h":1.78,"c":0.3},
{"i":"pn","e":0.497,"a":0.492,"b":0.502,"m":1.655,"r":1.60,"l":1.52,"h":1.68,"c":-0.7},
{"i":"pn","e":0.517,"a":0.512,"b":0.522,"m":1.605,"r":1.73,"l":1.65,"h":1.81,"c":1.5},
{"i":"pn","e":0.538,"a":0.533,"b":0.543,"m":1.54,"r":1.54,"l":1.46,"h":1.62,"c":0.0},
{"i":"pn","e":0.560,"a":0.554,"b":0.566,"m":1.485,"r":1.39,"l":1.32,"h":1.46,"c":-1.3},
{"i":"pn","e":0.582,"a":0.576,"b":0.588,"m":1.455,"r":1.51,"l":1.44,"h":1.58,"c":0.8},
{"i":"pn","e":0.605,"a":0.599,"b":0.611,"m":1.45,"r":1.42,"l":1.35,"h":1.49,"c":-0.4},
{"i":"pn","e":0.629,"a":0.623,"b":0.635,"m":1.445,"r":1.57,"l":1.50,"h":1.64,"c":1.7},
{"i":"pn","e":0.654,"a":0.647,"b":0.661,"m":1.43,"r":1.37,"l":1.30,"h":1.44,"c":-0.8},
{"i":"pn","e":0.680,"a":0.673,"b":0.687,"m":1.41,"r":1.45,"l":1.38,"h":1.52,"c":0.5},
{"i":"pn","e":0.707,"a":0.700,"b":0.714,"m":1.39,"r":1.24,"l":1.17,"h":1.31,"c":-2.1},
{"i":"pn","e":0.736,"a":0.729,"b":0.743,"m":1.375,"r":1.44,"l":1.37,"h":1.51,"c":0.9},
{"i":"pn","e":0.765,"a":0.757,"b":0.773,"m":1.36,"r":1.35,"l":1.28,"h":1.42,"c":-0.1},
{"i":"pn","e":0.796,"a":0.788,"b":0.804,"m":1.34,"r":1.42,"l":1.35,"h":1.49,"c":1.2},
{"i":"pn","e":0.828,"a":0.820,"b":0.836,"m":1.315,"r":1.28,"l":1.21,"h":1.35,"c":-0.6},
{"i":"pn","e":0.861,"a":0.852,"b":0.870,"m":1.29,"r":1.30,"l":1.24,"h":1.36,"c":0.2},
{"i":"pn","e":0.895,"a":0.886,"b":0.904,"m":1.265,"r":1.17,"l":1.11,"h":1.23,"c":-1.5},
{"i":"pn","e":0.931,"a":0.922,"b":0.940,"m":1.23,"r":1.29,"l":1.23,"h":1.35,"c":1.0},
{"i":"pn","e":0.968,"a":0.958,"b":0.978,"m":1.185,"r":1.17,"l":1.11,"h":1.23,"c":-0.3},
{"i":"pn","e":1.007,"a":0.997,"b":1.017,"m":1.135,"r":1.18,"l":1.11,"h":1.25,"c":0.6},
{"i":"pn","e":1.047,"a":1.037,"b":1.057,"m":1.09,"r":1.02,"l":0.96,"h":1.09,"c":-1.0},
{"i":"pn","e":1.089,"a":1.078,"b":1.100,"m":1.045,"r":1.16,"l":1.10,"h":1.22,"c":1.9},
{"i":"pn","e":1.133,"a":1.122,"b":1.144,"m":0.99,"r":0.96,"l":0.90,"h":1.02,"c":-0.5},
{"i":"pn","e":1.178,"a":1.166,"b":1.190,"m":0.935,"r":0.95,"l":0.89,"h":1.01,"c":0.3},
{"i":"pn","e":1.225,"a":1.213,"b":1.237,"m":0.885,"r":0.82,"l":0.77,"h":0.87,"c":-1.2},
{"i":"pn","e":1.274,"a":1.261,"b":1.287,"m":0.825,"r":0.865,"l":0.815,"h":0.915,"c":0.8},
{"i":"pn","e":1.325,"a":1.312,"b":1.338,"m":0.76,"r":0.75,"l":0.70,"h":0.80,"c":-0.2},
{"i":"pn","e":1.378,"a":1.364,"b":1.392,"m":0.71,"r":0.77,"l":0.727,"h":0.813,"c":1.4},
{"i":"pn","e":1.433,"a":1.419,"b":1.447,"m":0.66,"r":0.62,"l":0.58,"h":0.66,"c":-0.9},
{"i":"pn","e":1.490,"a":1.475,"b":1.505,"m":0.60,"r":0.60,"l":0.56,"h":0.64,"c":0.1},
{"i":"pn","e":1.550,"a":1.535,"b":1.566,"m":0.545,"r":0.480,"l":0.442,"h":0.518,"c":-1.7},
{"i":"pn","e":1.612,"a":1.596,"b":1.628,"m":0.495,"r":0.533,"l":0.498,"h":0.568,"c":1.1},
{"i":"pn","e":1.676,"a":1.659,"b":1.693,"m":0.45,"r":0.437,"l":0.405,"h":0.469,"c":-0.4},
{"i":"pn","e":1.743,"a":1.726,"b":1.760,"m":0.415,"r":0.435,"l":0.406,"h":0.464,"c":0.7},
{"i":"pn","e":1.813,"a":1.795,"b":1.831,"m":0.386,"r":0.448,"l":0.421,"h":0.475,"c":2.3},
{"i":"pn","e":1.886,"a":1.867,"b":1.905,"m":0.358,"r":0.343,"l":0.318,"h":0.368,"c":-0.6},
{"i":"pn","e":1.961,"a":1.941,"b":1.981,"m":0.335,"r":0.344,"l":0.320,"h":0.368,"c":0.4},
{"i":"pn","e":2.040,"a":2.020,"b":2.060,"m":0.31,"r":0.271,"l":0.243,"h":0.299,"c":-1.4},
{"i":"pn","e":2.121,"a":2.100,"b":2.142,"m":0.27,"r":0.292,"l":0.268,"h":0.316,"c":0.9},
{"i":"pn","e":2.206,"a":2.184,"b":2.228,"m":0.21,"r":0.208,"l":0.189,"h":0.227,"c":-0.1},
{"i":"pn","e":2.294,"a":2.271,"b":2.317,"m":0.165,"r":0.189,"l":0.174,"h":0.204,"c":1.6},
{"i":"pn","e":2.386,"a":2.362,"b":2.410,"m":0.145,"r":0.135,"l":0.122,"h":0.148,"c":-0.8},
{"i":"pn","e":2.481,"a":2.456,"b":2.506,"m":0.136,"r":0.138,"l":0.126,"h":0.150,"c":0.2},
{"i":"pn","e":2.581,"a":2.555,"b":2.607,"m":0.126,"r":0.111,"l":0.097,"h":0.125,"c":-1.1},
{"i":"pn","e":2.684,"a":2.657,"b":2.711,"m":0.114,"r":0.130,"l":0.1175,"h":0.1425,"c":1.3},
{"i":"pn","e":2.791,"a":2.763,"b":2.819,"m":0.1045,"r":0.101,"l":0.0895,"h":0.1125,"c":-0.3},
{"i":"pn","e":2.903,"a":2.874,"b":2.932,"m":0.099,"r":0.104,"l":0.093,"h":0.115,"c":0.5},
{"i":"pn","e":3.019,"a":2.989,"b":3.049,"m":0.0955,"r":0.0755,"l":0.065,"h":0.086,"c":-1.9},
{"i":"pn","e":3.140,"a":3.109,"b":3.171,"m":0.092,"r":0.102,"l":0.092,"h":0.112,"c":1.0},
{"i":"pn","e":3.265,"a":3.232,"b":3.298,"m":0.0875,"r":0.083,"l":0.0734,"h":0.0926,"c":-0.5},
{"i":"pn","e":3.396,"a":3.362,"b":3.430,"m":0.083,"r":0.090,"l":0.0809,"h":0.0991,"c":0.8},
{"i":"pn","e":3.532,"a":3.497,"b":3.567,"m":0.0785,"r":0.0765,"l":0.0663,"h":0.0867,"c":-0.2},
{"i":"pn","e":3.673,"a":3.636,"b":3.710,"m":0.074,"r":0.0855,"l":0.0759,"h":0.0951,"c":1.2},
{"i":"pn","e":3.820,"a":3.782,"b":3.858,"m":0.070,"r":0.058,"l":0.0489,"h":0.0671,"c":-1.3},
{"i":"pn","e":3.972,"a":3.932,"b":4.012,"m":0.066,"r":0.0686,"l":0.060,"h":0.0772,"c":0.3},
{"i":"pn","e":4.131,"a":4.090,"b":4.172,"m":0.062,"r":0.0564,"l":0.0483,"h":0.0645,"c":-0.7},
{"i":"pn","e":4.297,"a":4.254,"b":4.340,"m":0.058,"r":0.0716,"l":0.0641,"h":0.0791,"c":1.8},
{"i":"pn","e":4.468,"a":4.423,"b":4.513,"m":0.0545,"r":0.0517,"l":0.0446,"h":0.0588,"c":-0.4},
{"i":"pn","e":4.647,"a":4.601,"b":4.693,"m":0.050,"r":0.0539,"l":0.0474,"h":0.0604,"c":0.6},
{"i":"pn","e":4.833,"a":4.785,"b":4.881,"m":0.044,"r":0.0383,"l":0.0326,"h":0.044,"c":-1.0},
{"i":"pn","e":5.026,"a":4.976,"b":5.076,"m":0.039,"r":0.0395,"l":0.0344,"h":0.0446,"c":0.1}
]},
"data": {"name": "spec"},
"spacing": 0,
"bounds": "flush",
"hconcat": [
{
 "width": 373, "height": 842,
 "resolve": {"axis": {"x": "independent", "y": "independent"}},
 "layer": [
  {
   "mark": {"type": "rule", "strokeWidth": 1.3, "opacity": 0.75, "clip": true},
   "encoding": {
    "x": {"field": "r", "type": "quantitative", "scale": {"type": "log", "domain": [0.0011, 2.27], "reverse": true, "nice": false},
     "axis": {"orient": "bottom", "values": [2,1,0.9,0.8,0.7,0.6,0.5,0.4,0.3,0.2,0.1,0.09,0.08,0.07,0.06,0.05,0.04,0.03,0.02,0.01,0.009,0.008,0.007,0.006,0.005,0.004,0.003,0.002],
      "labelExpr": "datum.value == 1 || datum.value == 0.1 || datum.value == 0.01 ? '' + datum.value : ''",
      "labelAngle": 180, "labelAlign": "center", "labelBaseline": "bottom", "labelPadding": 26, "labelOverlap": false, "labelFlush": false, "labelBound": false,
      "tickSize": {"condition": {"test": "datum.value == 1 || datum.value == 0.1 || datum.value == 0.01", "value": -13}, "value": -6},
      "title": "Rate (counts  s⁻¹  keV⁻¹)", "titleAngle": 180, "titleBaseline": "bottom", "titlePadding": 7, "titleFontSize": 34}},
    "y": {"field": "a", "type": "quantitative", "scale": {"type": "log", "domain": [0.2906, 10], "nice": false},
     "axis": {"orient": "left", "values": [0.3,0.4,0.5,0.6,0.7,0.8,0.9,1,2,3,4,5,6,7,8,9,10], "labels": false, "title": null,
      "tickSize": {"condition": {"test": "datum.value == 1 || datum.value == 10", "value": -13}, "value": -7}}},
    "y2": {"field": "b"},
    "color": {"field": "i", "type": "nominal", "scale": {"domain": ["m1","m2","pn"], "range": ["#000000","#ff0000","#00ff00"]}, "legend": null}
   }
  },
  {
   "mark": {"type": "rule", "strokeWidth": 1.3, "opacity": 0.75, "clip": true},
   "encoding": {
    "x": {"field": "l", "type": "quantitative", "scale": {"type": "log", "domain": [0.0011, 2.27], "reverse": true, "nice": false},
     "axis": {"orient": "top", "values": [2,1,0.9,0.8,0.7,0.6,0.5,0.4,0.3,0.2,0.1,0.09,0.08,0.07,0.06,0.05,0.04,0.03,0.02,0.01,0.009,0.008,0.007,0.006,0.005,0.004,0.003,0.002], "labels": false, "title": null,
      "tickSize": {"condition": {"test": "datum.value == 1 || datum.value == 0.1 || datum.value == 0.01", "value": -13}, "value": -6}}},
    "x2": {"field": "h"},
    "y": {"field": "e", "type": "quantitative", "scale": {"type": "log", "domain": [0.2906, 10], "nice": false},
     "axis": {"orient": "right", "values": [0.3,0.4,0.5,0.6,0.7,0.8,0.9,1,2,3,4,5,6,7,8,9,10], "labels": false, "title": null,
      "tickSize": {"condition": {"test": "datum.value == 1 || datum.value == 10", "value": -13}, "value": -7}}},
    "color": {"field": "i", "type": "nominal", "scale": {"domain": ["m1","m2","pn"], "range": ["#000000","#ff0000","#00ff00"]}, "legend": null}
   }
  },
  {
   "mark": {"type": "line", "interpolate": "step-before", "strokeWidth": 1.8, "clip": true},
   "encoding": {
    "x": {"field": "m", "type": "quantitative", "scale": {"type": "log", "domain": [0.0011, 2.27], "reverse": true, "nice": false}, "axis": null},
    "y": {"field": "e", "type": "quantitative", "scale": {"type": "log", "domain": [0.2906, 10], "nice": false}, "axis": null},
    "order": {"field": "e", "type": "quantitative"},
    "color": {"field": "i", "type": "nominal", "scale": {"domain": ["m1","m2","pn"], "range": ["#000000","#ff0000","#00ff00"]}, "legend": null}
   }
  }
 ]
},
{
 "width": 182, "height": 842,
 "resolve": {"axis": {"x": "independent", "y": "independent"}},
 "layer": [
  {
   "mark": {"type": "rule", "strokeWidth": 1.3, "opacity": 0.75, "clip": true},
   "encoding": {
    "x": {"field": "c", "type": "quantitative", "scale": {"domain": [-5, 5], "reverse": true, "nice": false, "zero": false},
     "axis": {"orient": "bottom", "values": [-4,-3,-2,-1,0,1,2,3,4],
      "labelExpr": "datum.value % 2 == 0 ? (datum.value < 0 ? '−' + (-datum.value) : '' + datum.value) : ''",
      "labelAngle": 180, "labelAlign": "center", "labelBaseline": "bottom", "labelPadding": 25, "labelOverlap": false, "labelFlush": false, "labelBound": false,
      "tickSize": {"condition": {"test": "datum.value % 2 == 0", "value": -12}, "value": -7},
      "title": "χ", "titleAngle": 180, "titleBaseline": "bottom", "titlePadding": 7, "titleFontSize": 34}},
    "y": {"field": "a", "type": "quantitative", "scale": {"type": "log", "domain": [0.2906, 10], "nice": false},
     "axis": {"orient": "left", "values": [0.3,0.4,0.5,0.6,0.7,0.8,0.9,1,2,3,4,5,6,7,8,9,10], "labels": false, "title": null,
      "tickSize": {"condition": {"test": "datum.value == 1 || datum.value == 10", "value": -13}, "value": -7}}},
    "y2": {"field": "b"},
    "color": {"field": "i", "type": "nominal", "scale": {"domain": ["m1","m2","pn"], "range": ["#000000","#ff0000","#00ff00"]}, "legend": null}
   }
  },
  {
   "mark": {"type": "tick", "orient": "horizontal", "size": 36.4, "thickness": 1.3, "opacity": 0.75, "clip": true},
   "encoding": {
    "x": {"field": "c", "type": "quantitative", "scale": {"domain": [-5, 5], "reverse": true, "nice": false, "zero": false},
     "axis": {"orient": "top", "values": [-4,-3,-2,-1,0,1,2,3,4], "labels": false, "title": null,
      "tickSize": {"condition": {"test": "datum.value % 2 == 0", "value": -12}, "value": -7}}},
    "y": {"field": "e", "type": "quantitative", "scale": {"type": "log", "domain": [0.2906, 10], "nice": false},
     "axis": {"orient": "right", "values": [0.3,0.4,0.5,0.6,0.7,0.8,0.9,1,2,3,4,5,6,7,8,9,10],
      "labelExpr": "datum.value == 0.5 || datum.value == 1 || datum.value == 2 || datum.value == 5 || datum.value == 10 ? '' + datum.value : ''",
      "labelAngle": 270, "labelAlign": "center", "labelBaseline": "top", "labelOverlap": false, "labelFlush": false, "labelBound": false,
      "labelPadding": {"condition": {"test": "datum.value == 1 || datum.value == 10", "value": 20}, "value": 14},
      "tickSize": {"condition": {"test": "datum.value == 1 || datum.value == 10", "value": -13}, "value": -7},
      "title": "Energy (keV)", "titleAngle": 270, "titleBaseline": "top", "titlePadding": 2, "titleFontSize": 33}},
    "color": {"field": "i", "type": "nominal", "scale": {"domain": ["m1","m2","pn"], "range": ["#000000","#ff0000","#00ff00"]}, "legend": null}
   }
  },
  {
   "mark": {"type": "rule", "color": "#222", "strokeWidth": 1.2, "strokeDash": [10, 6]},
   "encoding": {
    "x": {"datum": 0, "type": "quantitative", "scale": {"domain": [-5, 5], "reverse": true, "nice": false, "zero": false}, "axis": null}
   }
  }
 ]
}
],
"config": {
 "view": {"stroke": "#222", "strokeWidth": 1.5},
 "axis": {"labelFont": "Liberation Serif", "titleFont": "Liberation Serif", "labelFontSize": 30, "titleFontSize": 36, "titleFontWeight": "normal", "labelColor": "#333", "titleColor": "#333", "tickColor": "#555", "tickWidth": 1.5, "domain": false, "grid": false}
}
}
